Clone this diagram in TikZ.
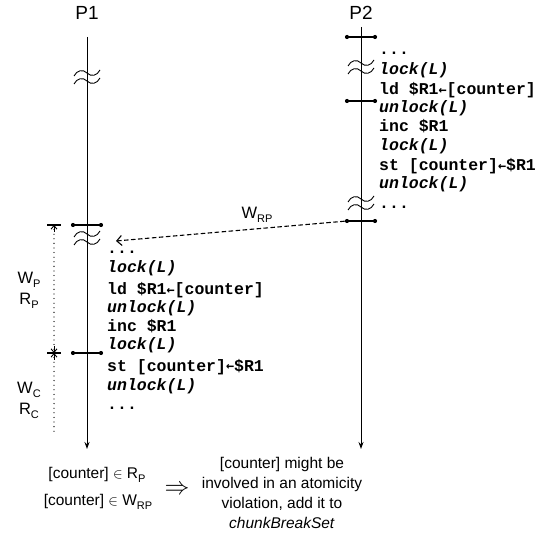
\documentclass[tikz,border=0pt]{standalone}
\usepackage{fontspec}
\setmainfont{Liberation Sans}
\setmonofont{Liberation Mono}
\newfontfamily\arrowfont{DejaVu Sans Mono}
\usetikzlibrary{arrows.meta}

% subscripts set in a smaller sans face
\newcommand{\lsub}[1]{\raisebox{-0.28em}{\fontsize{11}{11}\selectfont #1}}
\newcommand{\cd}{\fontsize{16.5}{16.5}\selectfont\ttfamily\bfseries}
% assignment arrow inside code lines
\newcommand{\asg}{{\arrowfont\bfseries\fontsize{13.5}{13.5}\selectfont\raisebox{0.05em}{←}}}

\tikzset{
  dimtip/.tip={Straight Barb[length=3.5pt,width=6pt]},
  life/.style={line width=1pt,-{Stealth[length=7pt,width=5pt]}},
  tick/.style={line width=1.1pt},
  tdot/.style={circle,fill=black,inner sep=0pt,minimum size=4.2pt},
  code/.style={anchor=base west,inner sep=0pt,font=\cd},
  lbl/.style={inner sep=0pt,font=\fontsize{19}{19}\selectfont},
  sans/.style={inner sep=0pt,font=\fontsize{15.5}{15.5}\selectfont},
  side/.style={inner sep=0pt,font=\fontsize{16.5}{16.5}\selectfont},
  dim/.style={line width=1.3pt,line cap=round,dash pattern=on 0pt off 4.6pt},
  dimarrow/.style={line width=0.9pt},
  wavy/.style={line width=0.9pt},
  msg/.style={line width=1.1pt,dash pattern=on 4.5pt off 2.5pt,
              -{Straight Barb[length=5pt,width=10pt]}},
}

% double wavy break mark across a lifeline
\newcommand{\brk}[2]{%
  \foreach \dy in {-4,4}{%
    \draw[wavy] (#1-13,#2+\dy+3) .. controls (#1-10,#2+\dy-3) and (#1-4,#2+\dy-4) .. (#1,#2+\dy)
      .. controls (#1+4,#2+\dy+4) and (#1+10,#2+\dy+3) .. (#1+13,#2+\dy-3);}}

\begin{document}
\begin{tikzpicture}[x=1pt,y=-1pt]
\useasboundingbox (0,0) rectangle (549,537);

% process labels
\node[lbl] (p1) at (87,12.5) {P1};
\node[lbl] (p2) at (361,12.5) {P2};

% lifelines
\coordinate (p1top) at (87,37);
\coordinate (p1bot) at (87,449);
\coordinate (p2top) at (361,27);
\coordinate (p2bot) at (361,449);
\draw[life] (p1top) -- (p1bot);
\draw[life] (p2top) -- (p2bot);

% break marks
\brk{87}{77}
\brk{87}{238}
\brk{361}{67}
\brk{361}{203}

% chunk boundaries on P2
\foreach \y/\n in {37/a,101/b,221/c}{
  \node[tdot] (q\n l) at (347,\y) {};
  \node[tdot] (q\n r) at (375,\y) {};
  \draw[tick] (q\n l) -- (q\n r);
}
% chunk boundaries on P1
\foreach \y/\n in {225/a,353/b}{
  \node[tdot] (r\n l) at (73,\y) {};
  \node[tdot] (r\n r) at (101,\y) {};
  \draw[tick] (r\n l) -- (r\n r);
}

% code of P2
\node[code] (c21) at (379,55)  {...};
\node[code] (c22) at (379,75)  {\itshape lock(L)};
\node[code] (c23) at (379,95)  {ld \$R1\asg[counter]};
\node[code] (c24) at (379,113) {\itshape unlock(L)};
\node[code] (c25) at (379,132) {inc \$R1};
\node[code] (c26) at (379,151) {\itshape lock(L)};
\node[code] (c27) at (379,171) {st [counter]\asg\$R1};
\node[code] (c28) at (379,189) {\itshape unlock(L)};
\node[code] (c29) at (379,209) {...};

% code of P1
\node[code] (c11) at (107,254) {...};
\node[code] (c12) at (107,273) {\itshape lock(L)};
\node[code] (c13) at (107,295) {ld \$R1\asg[counter]};
\node[code] (c14) at (107,313) {\itshape unlock(L)};
\node[code] (c15) at (107,332) {inc \$R1};
\node[code] (c16) at (107,349) {\itshape lock(L)};
\node[code] (c17) at (107,371) {st [counter]\asg\$R1};
\node[code] (c18) at (107,390) {\itshape unlock(L)};
\node[code] (c19) at (107,409) {...};

% remote write set arrow
\coordinate (wtip) at (116,241);
\draw[msg] (qcl) -- (wtip);
\node[side] (wrp) at (257,215) {W\lsub{RP}};

% chunk extents on the left
\coordinate (da1) at (47,225);
\coordinate (da2) at (61,225);
\coordinate (db1) at (47,353);
\coordinate (db2) at (61,353);
\coordinate (dtop) at (54,225);
\coordinate (dmid) at (54,353);
\coordinate (dend) at (54,432);
\draw[tick] (da1) -- (da2);
\draw[tick] (db1) -- (db2);
\draw[dim] (dtop) -- (dmid);
\draw[dim] (dmid) -- (dend);
\draw[dimarrow,dimtip-] (dtop) -- ++(0,7);
\draw[dimarrow,dimtip-] (dmid) -- ++(0,-7);
\draw[dimarrow,dimtip-] (dmid) -- ++(0,7);

\node[side] (wp) at (29,280) {W\lsub{P}};
\node[side] (rp) at (29,301) {R\lsub{P}};
\node[side] (wc) at (29,390) {W\lsub{C}};
\node[side] (rc) at (29,411) {R\lsub{C}};

% conclusion
\node[sans] (f1) at (97,475) {[counter] $\in$ R\lsub{P}};
\node[sans] (f2) at (98,502) {[counter] $\in$ W\lsub{RP}};
\node[inner sep=0pt,font=\fontsize{28}{28}\selectfont] (imp) at (177,490) {$\Rightarrow$};
\node[sans,align=center,font=\fontsize{15.5}{20}\selectfont] (res) at (282,493)
  {[counter] might be\\involved in an atomicity\\violation, add it to\\\textit{chunkBreakSet}};
\end{tikzpicture}
\end{document}
